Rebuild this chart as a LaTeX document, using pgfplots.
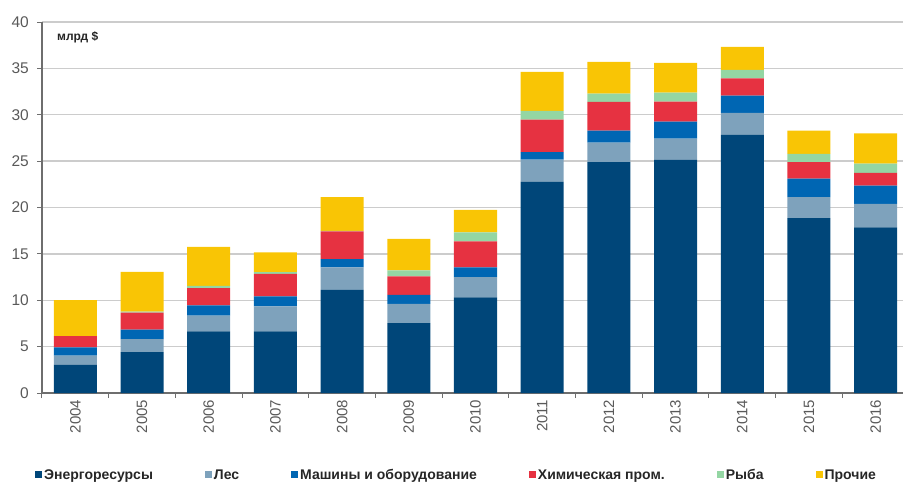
\documentclass[border=0pt]{standalone}
\usepackage{fontspec}
\setmainfont{Liberation Sans}
\usepackage{pgfplots}
\usepackage{pgfplotstable}
\pgfplotsset{compat=1.18}
\definecolor{cEn}{HTML}{004679}
\definecolor{cLes}{HTML}{7EA2BC}
\definecolor{cMash}{HTML}{0066B3}
\definecolor{cChem}{HTML}{E63241}
\definecolor{cFish}{HTML}{94D6A3}
\definecolor{cOther}{HTML}{F9C505}
\definecolor{axisgray}{HTML}{6E6E6E}
\definecolor{gridgray}{HTML}{CCCCCC}
\definecolor{labelgray}{HTML}{595959}
\pgfplotstableread{
x en les mash chem fish other
0 3.05 0.97 0.90 1.20 0.00 3.90
1 4.42 1.40 1.00 1.85 0.10 4.30
2 6.64 1.69 1.11 1.87 0.25 4.20
3 6.64 2.70 1.07 2.44 0.18 2.12
4 11.13 2.41 0.90 2.98 0.05 3.65
5 7.54 2.08 0.97 1.98 0.64 3.41
6 10.31 2.19 1.04 2.80 0.97 2.44
7 22.76 2.41 0.79 3.52 0.93 4.20
8 24.88 2.12 1.29 3.09 0.90 3.41
9 25.17 2.26 1.83 2.16 0.97 3.19
10 27.83 2.37 1.86 1.87 0.90 2.48
11 18.85 2.26 2.01 1.76 0.90 2.51
12 17.85 2.55 1.97 1.36 1.01 3.26
}\datatable
\begin{document}
\begin{tikzpicture}
\begin{axis}[
  scale only axis, width=861pt, height=371pt,
  xmin=-0.5, xmax=12.41, ymin=0, ymax=40,
  ybar stacked, bar width=0.645,
  axis x line*=bottom, axis y line*=left,
  axis line style={color=axisgray, line width=1.2pt},
  xtick={0,...,12},
  xticklabels={2004,2005,2006,2007,2008,2009,2010,2011,2012,2013,2014,2015,2016},
  major x tick style={draw=none},
  minor xtick={-0.5,0.5,...,11.5},
  minor x tick style={color=axisgray, line width=1pt},
  minor tick length=5pt,
  major tick length=5pt,
  tick align=outside,
  ytick={0,5,...,40},
  major y tick style={color=axisgray, line width=1pt},
  ymajorgrids, grid style={color=gridgray, line width=1.3pt},
  /pgf/number format/assume math mode=true,
  xticklabel style={rotate=90, anchor=east, inner sep=1.5pt, font=\fontsize{15}{15}\selectfont, color=labelgray},
  yticklabel style={font=\fontsize{15.5}{15.5}\selectfont, color=labelgray, inner sep=3pt, xshift=-5pt},
  legend columns=6,
  legend image code/.code={\fill[#1] (0pt,-3.5pt) rectangle (7pt,3.5pt);},
  legend style={at={(axis description cs:-0.00813,-0.221)}, anchor=west, draw=none, fill=none, inner sep=0pt,
    font=\bfseries\fontsize{14}{14}\selectfont, text=black!85,
    /tikz/every even column/.append style={column sep=50pt},
    nodes={inner sep=2pt}},
]
\addplot[fill=cEn, draw=none] table[x=x, y=en] {\datatable};
\addplot[fill=cLes, draw=none] table[x=x, y=les] {\datatable};
\addplot[fill=cMash, draw=none] table[x=x, y=mash] {\datatable};
\addplot[fill=cChem, draw=none] table[x=x, y=chem] {\datatable};
\addplot[fill=cFish, draw=none] table[x=x, y=fish] {\datatable};
\addplot[fill=cOther, draw=none] table[x=x, y=other] {\datatable};
\legend{Энергоресурсы, Лес, Машины и оборудование, Химическая пром., Рыба, Прочие}
\node[anchor=west, font=\bfseries\fontsize{12}{12}\selectfont, text=black!85, inner sep=0pt] at (rel axis cs:0.0174,0.96) {млрд \$};
\end{axis}
\pgfresetboundingbox
\path (-42pt,-89pt) rectangle (861pt,393pt);
\end{tikzpicture}
\end{document}
